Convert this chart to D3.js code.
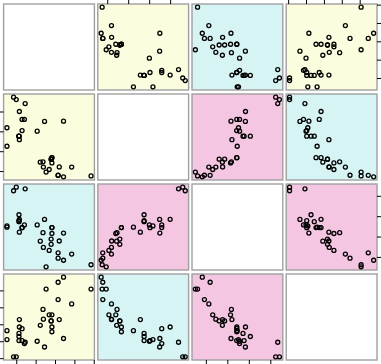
<!DOCTYPE html>
<html>
<head>
<meta charset="utf-8">
<script src="https://cdn.jsdelivr.net/npm/d3@7"></script>
<style>
  body { margin: 0; background: #fff; }
  svg { display: block; }
</style>
</head>
<body>
<div id="chart"></div>
<script>
'use strict';

// mtcars columns used in the plot (32 cars, same row order in each array)
const mpg  = [21.0, 21.0, 22.8, 21.4, 18.7, 18.1, 14.3, 24.4, 22.8, 19.2, 17.8, 16.4, 17.3, 15.2, 10.4, 10.4,
              14.7, 32.4, 30.4, 33.9, 21.5, 15.5, 15.2, 13.3, 19.2, 27.3, 26.0, 30.4, 15.8, 19.7, 15.0, 21.4];
const disp = [160.0, 160.0, 108.0, 258.0, 360.0, 225.0, 360.0, 146.7, 140.8, 167.6, 167.6, 275.8, 275.8, 275.8, 472.0, 460.0,
              440.0, 78.7, 75.7, 71.1, 120.1, 318.0, 304.0, 350.0, 400.0, 79.0, 120.3, 95.1, 351.0, 145.0, 301.0, 121.0];
const drat = [3.90, 3.90, 3.85, 3.08, 3.15, 2.76, 3.21, 3.69, 3.92, 3.92, 3.92, 3.07, 3.07, 3.07, 2.93, 3.00,
              3.23, 4.08, 4.93, 4.22, 3.70, 2.76, 3.15, 3.73, 3.08, 4.08, 4.43, 3.77, 4.22, 3.62, 3.54, 4.11];
const wt   = [2.620, 2.875, 2.320, 3.215, 3.440, 3.460, 3.570, 3.190, 3.150, 3.440, 3.440, 4.070, 3.730, 3.780, 5.250, 5.424,
              5.345, 2.200, 1.615, 1.835, 2.465, 3.520, 3.435, 3.840, 3.845, 1.935, 2.140, 1.513, 3.170, 2.770, 3.570, 2.780];

// variable order along the matrix
const varNames = ["drat", "disp", "wt", "mpg"];
const vars = { drat: drat, disp: disp, wt: wt, mpg: mpg };

// panel colours for low / medium / high |correlation|
const panelColors = ["#FCFCDE", "#D6F4F3", "#F5C6E2"];

const m = {
  width: 381,
  height: 364,
  left: 3.6,
  top: 4,
  panelW: 90.8,
  panelH: 86,
  gapX: 3.4,
  gapY: 4
};

let svg = d3.select('#chart')
  .append('svg')
  .attr('width', m.width)
  .attr('height', m.height);

function cor(a, b) {
  let ma = d3.mean(a), mb = d3.mean(b);
  let sab = 0, saa = 0, sbb = 0;
  for (let i = 0; i < a.length; i++) {
    sab += (a[i] - ma) * (b[i] - mb);
    saa += (a[i] - ma) * (a[i] - ma);
    sbb += (b[i] - mb) * (b[i] - mb);
  }
  return sab / Math.sqrt(saa * sbb);
}

// colour each pair by the rank of its |r|, split into three equal groups
let pairs = [];
varNames.forEach((a, i) => {
  varNames.forEach((b, j) => {
    if (j > i) pairs.push({ key: a + "|" + b, r: Math.abs(cor(vars[a], vars[b])) });
  });
});
pairs.sort((p, q) => p.r - q.r);
let pairColor = {};
pairs.forEach((p, k) => {
  pairColor[p.key] = panelColors[Math.floor(k * panelColors.length / pairs.length)];
});

function panelX(j) { return m.left + j * (m.panelW + m.gapX); }
function panelY(i) { return m.top + i * (m.panelH + m.gapY); }

// 4% range extension like base R
function paddedDomain(values) {
  let ext = d3.extent(values);
  let pad = (ext[1] - ext[0]) * 0.04;
  return [ext[0] - pad, ext[1] + pad];
}

let xScales = varNames.map((v, j) => d3.scaleLinear()
  .domain(paddedDomain(vars[v]))
  .range([panelX(j), panelX(j) + m.panelW]));
let yScales = varNames.map((v, i) => d3.scaleLinear()
  .domain(paddedDomain(vars[v]))
  .range([panelY(i) + m.panelH, panelY(i)]));

let n = varNames.length;

for (let i = 0; i < n; i++) {
  for (let j = 0; j < n; j++) {
    let fill = "#ffffff";
    if (i != j) {
      let a = varNames[Math.min(i, j)], b = varNames[Math.max(i, j)];
      fill = pairColor[a + "|" + b];
    }
    svg.append('rect')
      .attr('x', panelX(j))
      .attr('y', panelY(i))
      .attr('width', m.panelW)
      .attr('height', m.panelH)
      .style('fill', fill)
      .style('stroke', '#a0a0a0')
      .style('stroke-width', 1.4);

    if (i == j) continue;

    let xv = vars[varNames[j]];
    let yv = vars[varNames[i]];
    let xs = xScales[j], ys = yScales[i];
    svg.append('g')
      .selectAll('circle')
      .data(d3.range(xv.length))
      .enter()
      .append('circle')
      .attr('cx', k => xs(xv[k]))
      .attr('cy', k => ys(yv[k]))
      .attr('r', 2.0)
      .style('fill', 'none')
      .style('stroke', '#000')
      .style('stroke-width', 1.3);
  }
}

// axes alternate sides like pairs(): top for even columns, bottom for odd ones,
// left for even rows, right for odd ones
function styleAxis(g) {
  g.select('.domain').remove();
  g.selectAll('line').style('stroke', '#000').style('stroke-width', 1);
}

for (let j = 0; j < n; j++) {
  if (j % 2 == 1) {
    svg.append('g')
      .attr('transform', 'translate(0,' + panelY(0) + ')')
      .call(d3.axisTop(xScales[j]).ticks(5).tickSize(5).tickFormat(''))
      .call(styleAxis);
  } else {
    svg.append('g')
      .attr('transform', 'translate(0,' + (panelY(n - 1) + m.panelH) + ')')
      .call(d3.axisBottom(xScales[j]).ticks(5).tickSize(5).tickFormat(''))
      .call(styleAxis);
  }
}

for (let i = 0; i < n; i++) {
  if (i % 2 == 1) {
    svg.append('g')
      .attr('transform', 'translate(' + panelX(0) + ',0)')
      .call(d3.axisLeft(yScales[i]).ticks(5).tickSize(5).tickFormat(''))
      .call(styleAxis);
  } else {
    svg.append('g')
      .attr('transform', 'translate(' + (panelX(n - 1) + m.panelW) + ',0)')
      .call(d3.axisRight(yScales[i]).ticks(5).tickSize(5).tickFormat(''))
      .call(styleAxis);
  }
}
</script>
</body>
</html>
